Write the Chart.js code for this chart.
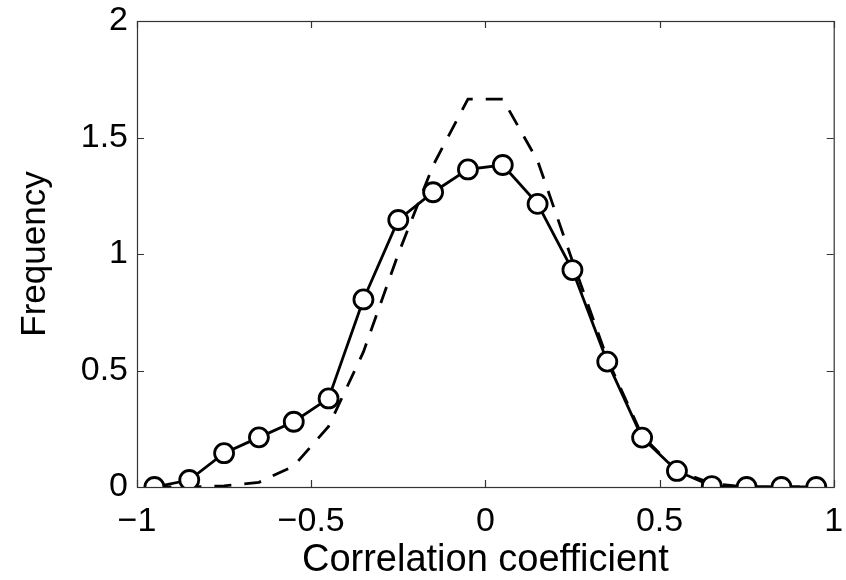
<!DOCTYPE html>
<html>
<head>
<meta charset="utf-8">
<script src="https://cdn.jsdelivr.net/npm/chart.js@4.4.1/dist/chart.umd.min.js"></script>
<style>
  html, body { margin: 0; padding: 0; background: #fff; }
  #wrap { width: 846px; height: 580px; }
</style>
</head>
<body>
<div id="wrap"><canvas id="corrChart" width="846" height="580"></canvas></div>
<script>
// bin centres of the correlation coefficient histogram
const binCenters = [-0.95, -0.85, -0.75, -0.65, -0.55, -0.45, -0.35, -0.25, -0.15, -0.05,
                    0.05, 0.15, 0.25, 0.35, 0.45, 0.55, 0.65, 0.75, 0.85, 0.95];

// observed frequency (solid line with circles)
const observed = [0, 0.03, 0.145, 0.213, 0.28, 0.38, 0.805, 1.146, 1.265, 1.363,
                  1.382, 1.215, 0.931, 0.538, 0.212, 0.069, 0.004, 0, 0, 0];

// reference distribution (dashed line)
const reference = [0, 0, 0.005, 0.02, 0.09, 0.26, 0.58, 1.0, 1.38, 1.665,
                   1.665, 1.40, 0.97, 0.55, 0.22, 0.07, 0.015, 0, 0, 0];

const xTicks = [-1, -0.5, 0, 0.5, 1];
const yTicks = [0, 0.5, 1, 1.5, 2];

const axisColor = '#333';
const fontFamily = '"Liberation Sans", Arial, Helvetica, sans-serif';

function toPoints(values) {
    return binCenters.map((x, i) => ({ x: x, y: values[i] }));
}

function formatTick(value) {
    // MATLAB style minus sign
    return value < 0 ? '\u2212' + String(Math.abs(value)) : String(value);
}

// box around the plot with inward ticks on all four sides
const boxPlugin = {
    id: 'boxPlugin',
    afterDatasetsDraw(chart) {
        const { ctx, chartArea, scales } = chart;
        const tickLen = 7;
        ctx.save();
        ctx.strokeStyle = axisColor;
        ctx.lineWidth = 1.2;
        ctx.strokeRect(chartArea.left + 0.5, chartArea.top + 0.5,
                       chartArea.right - chartArea.left, chartArea.bottom - chartArea.top);
        ctx.beginPath();
        xTicks.forEach(v => {
            const px = Math.round(scales.x.getPixelForValue(v)) + 0.5;
            ctx.moveTo(px, chartArea.bottom);
            ctx.lineTo(px, chartArea.bottom - tickLen);
            ctx.moveTo(px, chartArea.top);
            ctx.lineTo(px, chartArea.top + tickLen);
        });
        yTicks.forEach(v => {
            const py = Math.round(scales.y.getPixelForValue(v)) + 0.5;
            ctx.moveTo(chartArea.left, py);
            ctx.lineTo(chartArea.left + tickLen, py);
            ctx.moveTo(chartArea.right, py);
            ctx.lineTo(chartArea.right - tickLen, py);
        });
        ctx.stroke();
        ctx.restore();
    }
};

const ctx = document.getElementById('corrChart').getContext('2d');

new Chart(ctx, {
    type: 'line',
    data: {
        datasets: [{
            label: 'Observed',
            data: toPoints(observed),
            borderColor: '#000',
            borderWidth: 2.8,
            pointStyle: 'circle',
            pointRadius: 9.5,
            pointBorderWidth: 2.8,
            pointBorderColor: '#000',
            pointBackgroundColor: '#fff',
            tension: 0
        }, {
            label: 'Reference',
            data: toPoints(reference),
            borderColor: '#000',
            borderWidth: 2.8,
            borderDash: [17, 13],
            pointRadius: 0,
            tension: 0
        }]
    },
    options: {
        responsive: false,
        animation: false,
        layout: { padding: { top: 21, right: 9, left: 0, bottom: 0 } },
        plugins: {
            legend: { display: false },
            tooltip: { enabled: false }
        },
        scales: {
            x: {
                type: 'linear',
                min: -1,
                max: 1,
                afterBuildTicks: scale => { scale.ticks = xTicks.map(v => ({ value: v })); },
                afterFit: scale => {
                    scale.height = 93;
                    scale.paddingLeft = 0;
                    scale.paddingRight = 0;
                },
                grid: { display: false, drawTicks: false },
                border: { display: false },
                ticks: {
                    color: '#000',
                    padding: 14,
                    maxRotation: 0,
                    font: { family: fontFamily, size: 34 },
                    callback: v => formatTick(v)
                },
                title: {
                    display: true,
                    text: 'Correlation coefficient',
                    color: '#000',
                    font: { family: fontFamily, size: 38, lineHeight: 1 },
                    padding: { top: 0, bottom: 0 }
                }
            },
            y: {
                type: 'linear',
                min: 0,
                max: 2,
                afterBuildTicks: scale => { scale.ticks = yTicks.map(v => ({ value: v })); },
                afterFit: scale => {
                    scale.width = 137;
                    scale.paddingTop = 0;
                    scale.paddingBottom = 0;
                },
                grid: { display: false, drawTicks: false },
                border: { display: false },
                ticks: {
                    color: '#000',
                    padding: 9,
                    font: { family: fontFamily, size: 34 },
                    callback: v => formatTick(v)
                },
                title: {
                    display: true,
                    text: 'Frequency',
                    color: '#000',
                    font: { family: fontFamily, size: 35, lineHeight: 1 },
                    padding: { top: 18, bottom: 0 }
                }
            }
        }
    },
    plugins: [boxPlugin]
});
</script>
</body>
</html>
